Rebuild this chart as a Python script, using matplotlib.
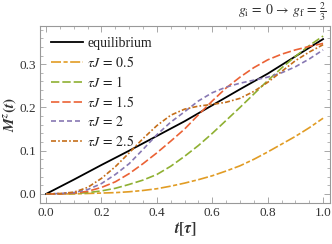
import numpy as np
import matplotlib
matplotlib.use('Agg')
from matplotlib import pyplot as plt
from matplotlib.ticker import MultipleLocator

plt.rcParams['font.family'] = 'serif'
plt.rcParams['font.serif'] = ['Liberation Serif', 'DejaVu Serif']
plt.rcParams['mathtext.fontset'] = 'stix'

# values, x = t/tau
t_eq = [0.0, 0.1, 0.2, 0.3, 0.4, 0.5, 0.6, 0.7, 0.8, 0.9, 1.0]
m_eq = [0.0, 0.033, 0.067, 0.100, 0.134, 0.168, 0.205, 0.242, 0.278, 0.318, 0.358]

t = [0.0, 0.05, 0.1, 0.15, 0.2, 0.25, 0.3, 0.35, 0.4, 0.45, 0.5,
     0.55, 0.6, 0.65, 0.7, 0.75, 0.8, 0.85, 0.9, 0.95, 1.0]
m_05 = [0, 0, 0, 0.001, 0.002, 0.003, 0.005, 0.008, 0.012, 0.018, 0.025,
        0.033, 0.042, 0.053, 0.065, 0.080, 0.097, 0.115, 0.133, 0.153, 0.175]
m_1 = [0, 0, 0.001, 0.003, 0.007, 0.013, 0.022, 0.032, 0.045, 0.064, 0.087,
       0.112, 0.140, 0.170, 0.200, 0.231, 0.262, 0.291, 0.318, 0.343, 0.365]
m_15 = [0, 0, 0.002, 0.006, 0.015, 0.028, 0.047, 0.070, 0.095, 0.122, 0.150,
        0.183, 0.215, 0.245, 0.270, 0.292, 0.310, 0.323, 0.333, 0.341, 0.348]
m_2 = [0, 0.001, 0.003, 0.010, 0.024, 0.045, 0.070, 0.103, 0.137, 0.166, 0.190,
       0.215, 0.234, 0.247, 0.256, 0.263, 0.270, 0.280, 0.294, 0.312, 0.333]
m_25 = [0, 0.001, 0.004, 0.015, 0.036, 0.063, 0.095, 0.128, 0.158, 0.182, 0.196,
        0.203, 0.207, 0.212, 0.221, 0.237, 0.258, 0.283, 0.308, 0.328, 0.345]

labels = ['equilibrium', r'$\tau J\, =\, 0.5$', r'$\tau J\, =\, 1$', r'$\tau J\, =\, 1.5$',
          r'$\tau J\, =\, 2$', r'$\tau J\, =\, 2.5$']

fig = plt.figure(figsize=(3.32, 2.44), dpi=100)
ax = fig.add_axes([0.1205, 0.168, 0.8735, 0.725])

ax.plot(t_eq, m_eq, color='black', lw=1.3, label=labels[0])
ax.plot(t, m_05, color='#E19C24', lw=1.2, ls=(0, (6, 1.5, 2.5, 1.5)), label=labels[1])
ax.plot(t, m_1, color='#8FB032', lw=1.2, ls=(0, (5, 1.8)), label=labels[2])
ax.plot(t, m_15, color='#EB6235', lw=1.2, ls=(0, (5, 1.8)), label=labels[3])
ax.plot(t, m_2, color='#8778B3', lw=1.2, ls=(0, (3, 1.8)), label=labels[4])
ax.plot(t, m_25, color='#C56E1A', lw=1.2, ls=(0, (3, 1.3, 1, 1.3)), label=labels[5])

ax.set_xlim(-0.022, 1.025)
ax.set_ylim(-0.021, 0.388)
ax.xaxis.set_major_locator(MultipleLocator(0.2))
ax.xaxis.set_minor_locator(MultipleLocator(0.05))
ax.yaxis.set_major_locator(MultipleLocator(0.1))
ax.yaxis.set_minor_locator(MultipleLocator(0.02))
ax.xaxis.set_major_formatter(matplotlib.ticker.FormatStrFormatter('%.1f'))
ax.yaxis.set_major_formatter(matplotlib.ticker.FormatStrFormatter('%.1f'))

ax.tick_params(which='both', direction='in', top=True, right=True,
               colors='#999999', labelcolor='#333333', labelsize=9.5, pad=3)
ax.tick_params(which='major', length=4, width=0.6)
ax.tick_params(which='minor', length=2, width=0.5)
for s in ax.spines.values():
    s.set_color('#999999')
    s.set_linewidth(0.8)

ax.set_xlabel(r'$\boldsymbol{t[\tau]}$', fontsize=11.5, color='#333333', labelpad=1)
ax.set_ylabel(r'$\boldsymbol{M}^{\boldsymbol{z}}\boldsymbol{(t)}$', fontsize=11,
              color='#333333')
ax.yaxis.set_label_coords(-0.075, 0.5)

leg = ax.legend(loc='upper left', frameon=False, fontsize=10, handlelength=2.3,
                handletextpad=0.3, labelspacing=0.35, borderaxespad=0.4,
                bbox_to_anchor=(0.0, 1.0))
for txt in leg.get_texts():
    txt.set_color('#222222')

fig.text(0.985, 0.95,
         r'$g_\mathrm{i}\, =\, 0\, \rightarrow\, g_\mathrm{f}\, =\, \frac{2}{3}$',
         ha='right', va='center', fontsize=10, color='#333333')

fig.savefig('out.png', dpi=100)
